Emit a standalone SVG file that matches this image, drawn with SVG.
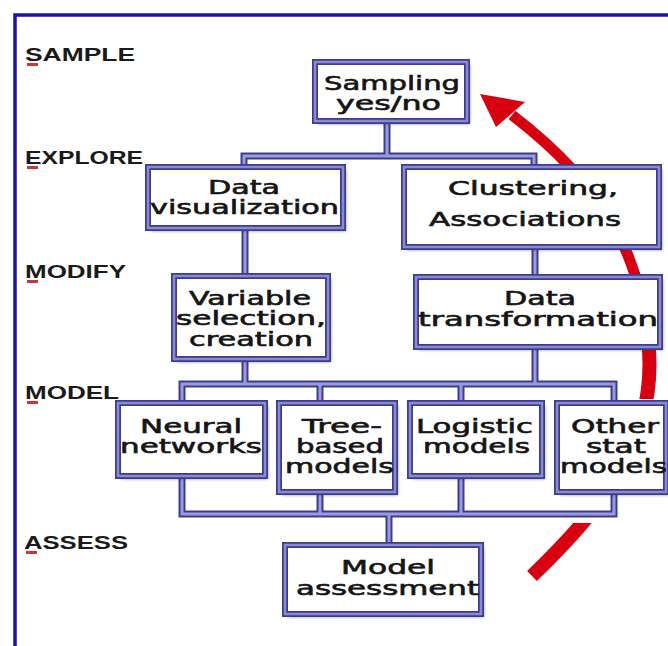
<svg xmlns="http://www.w3.org/2000/svg" width="668" height="646" viewBox="0 0 668 646">
<defs>
<style>
.shadow{fill:#2a2a50;opacity:.55;filter:url(#sh)}
.box{fill:#fff;stroke:#3c3c8c;stroke-width:6}
.boxin{fill:none;stroke:#8a8ad4;stroke-width:2.5}
.pipe{fill:none;stroke:#3c3c8c;stroke-width:7;stroke-linejoin:miter}
.pipein{fill:none;stroke:#9a9ae0;stroke-width:3;stroke-linejoin:miter}
.t{font-family:"DejaVu Sans",Verdana,sans-serif;font-size:19px;fill:#151515;stroke:#151515;stroke-width:0.6}
.lbl{font-family:"Liberation Sans",Arial,sans-serif;font-weight:bold;font-size:18px;fill:#1a1a1a}
.ul{fill:#c43a3a}
.red{fill:none;stroke:#d80010}
</style>
<filter id="sh" x="-10%" y="-10%" width="130%" height="130%"><feGaussianBlur stdDeviation="1.5"/></filter>
<clipPath id="redclip">
<rect x="0" y="0" width="668" height="399"/>
<rect x="0" y="523" width="668" height="123"/>
<rect x="0" y="399" width="550" height="124"/>
</clipPath>
</defs>
<rect width="668" height="646" fill="#fff"/>
<path d="M15 646 V15 H668" fill="none" stroke="#1e14a0" stroke-width="3.5"/>

<g id="stages">
<text class="lbl" x="25" y="61" textLength="110" lengthAdjust="spacingAndGlyphs">SAMPLE</text>
<rect class="ul" x="27" y="63" width="11" height="3"/>
<text class="lbl" x="25" y="164" textLength="118" lengthAdjust="spacingAndGlyphs">EXPLORE</text>
<rect class="ul" x="27" y="166" width="11" height="3"/>
<text class="lbl" x="25" y="278" textLength="101" lengthAdjust="spacingAndGlyphs">MODIFY</text>
<rect class="ul" x="27" y="280" width="11" height="3"/>
<text class="lbl" x="25" y="399" textLength="94" lengthAdjust="spacingAndGlyphs">MODEL</text>
<rect class="ul" x="27" y="401" width="11" height="3"/>
<text class="lbl" x="24" y="549" textLength="104" lengthAdjust="spacingAndGlyphs">ASSESS</text>
<rect class="ul" x="26" y="551" width="11" height="3"/>
</g>

<g id="cycle-arrow" clip-path="url(#redclip)">
<path class="red" stroke-width="14" d="M532 576 C600 510 660 440 648 340"/>
<path class="red" stroke-width="11" d="M648 340 C640 260 610 190 512 115"/>
<polygon points="480,94 525,102 496,127" fill="#d80010"/>
</g>

<g id="connectors">
<path class="pipe" d="M387 121 V156 M244 167 V156 H534 V167 M245 228 V276 M535 247 V277 M245 359 V384 M535 347 V384 M182 403 V384 H614 V403 M320 384 V403 M461 384 V403 M182 476 V514 H614 V492 M320 492 V514 M461 476 V514 M389 514 V545"/>
<path class="pipein" d="M387 121 V156 M244 167 V156 H534 V167 M245 228 V276 M535 247 V277 M245 359 V384 M535 347 V384 M182 403 V384 H614 V403 M320 384 V403 M461 384 V403 M182 476 V514 H614 V492 M320 492 V514 M461 476 V514 M389 514 V545"/>
</g>

<g id="n-sampling">
<rect class="shadow" x="318" y="65" width="152" height="59"/>
<rect class="box" x="315" y="62" width="152" height="59"/>
<rect class="boxin" x="315" y="62" width="152" height="59"/>
<text class="t" x="324" y="90" textLength="136" lengthAdjust="spacingAndGlyphs">Sampling</text>
<text class="t" x="336" y="110" textLength="105" lengthAdjust="spacingAndGlyphs">yes/no</text>
</g>

<g id="n-dataviz">
<rect class="shadow" x="151" y="170" width="195" height="61"/>
<rect class="box" x="148" y="167" width="195" height="61"/>
<rect class="boxin" x="148" y="167" width="195" height="61"/>
<text class="t" x="208" y="194" textLength="72" lengthAdjust="spacingAndGlyphs">Data</text>
<text class="t" x="150" y="214" textLength="189" lengthAdjust="spacingAndGlyphs">visualization</text>
</g>

<g id="n-clustering">
<rect class="shadow" x="407" y="170" width="255" height="80"/>
<rect class="box" x="404" y="167" width="255" height="80"/>
<rect class="boxin" x="404" y="167" width="255" height="80"/>
<text class="t" x="448" y="195" textLength="170" lengthAdjust="spacingAndGlyphs">Clustering,</text>
<text class="t" x="429" y="226" textLength="192" lengthAdjust="spacingAndGlyphs">Associations</text>
</g>

<g id="n-variable">
<rect class="shadow" x="177" y="279" width="154" height="83"/>
<rect class="box" x="174" y="276" width="154" height="83"/>
<rect class="boxin" x="174" y="276" width="154" height="83"/>
<text class="t" x="189" y="305" textLength="122" lengthAdjust="spacingAndGlyphs">Variable</text>
<text class="t" x="176" y="325" textLength="150" lengthAdjust="spacingAndGlyphs">selection,</text>
<text class="t" x="189" y="346" textLength="124" lengthAdjust="spacingAndGlyphs">creation</text>
</g>

<g id="n-transform">
<rect class="shadow" x="419" y="280" width="244" height="70"/>
<rect class="box" x="416" y="277" width="244" height="70"/>
<rect class="boxin" x="416" y="277" width="244" height="70"/>
<text class="t" x="504" y="305" textLength="72" lengthAdjust="spacingAndGlyphs">Data</text>
<text class="t" x="418" y="326" textLength="240" lengthAdjust="spacingAndGlyphs">transformation</text>
</g>

<g id="n-neural">
<rect class="shadow" x="121" y="406" width="147" height="73"/>
<rect class="box" x="118" y="403" width="147" height="73"/>
<rect class="boxin" x="118" y="403" width="147" height="73"/>
<text class="t" x="140" y="433" textLength="102" lengthAdjust="spacingAndGlyphs">Neural</text>
<text class="t" x="120" y="453" textLength="142" lengthAdjust="spacingAndGlyphs">networks</text>
</g>

<g id="n-tree">
<rect class="shadow" x="282" y="406" width="116" height="89"/>
<rect class="box" x="279" y="403" width="116" height="89"/>
<rect class="boxin" x="279" y="403" width="116" height="89"/>
<text class="t" x="302" y="433" textLength="80" lengthAdjust="spacingAndGlyphs">Tree-</text>
<text class="t" x="296" y="453" textLength="88" lengthAdjust="spacingAndGlyphs">based</text>
<text class="t" x="285" y="473" textLength="109" lengthAdjust="spacingAndGlyphs">models</text>
</g>

<g id="n-logistic">
<rect class="shadow" x="413" y="406" width="132" height="73"/>
<rect class="box" x="410" y="403" width="132" height="73"/>
<rect class="boxin" x="410" y="403" width="132" height="73"/>
<text class="t" x="416" y="433" textLength="117" lengthAdjust="spacingAndGlyphs">Logistic</text>
<text class="t" x="423" y="453" textLength="107" lengthAdjust="spacingAndGlyphs">models</text>
</g>

<g id="n-other">
<rect class="shadow" x="560" y="406" width="109" height="89"/>
<rect class="box" x="557" y="403" width="109" height="89"/>
<rect class="boxin" x="557" y="403" width="109" height="89"/>
<text class="t" x="571" y="433" textLength="88" lengthAdjust="spacingAndGlyphs">Other</text>
<text class="t" x="586" y="453" textLength="60" lengthAdjust="spacingAndGlyphs">stat</text>
<text class="t" x="560" y="473" textLength="107" lengthAdjust="spacingAndGlyphs">models</text>
</g>

<g id="n-assessment">
<rect class="shadow" x="288" y="548" width="196" height="69"/>
<rect class="box" x="285" y="545" width="196" height="69"/>
<rect class="boxin" x="285" y="545" width="196" height="69"/>
<text class="t" x="341" y="574" textLength="94" lengthAdjust="spacingAndGlyphs">Model</text>
<text class="t" x="296" y="595" textLength="183" lengthAdjust="spacingAndGlyphs">assessment</text>
</g>
</svg>
